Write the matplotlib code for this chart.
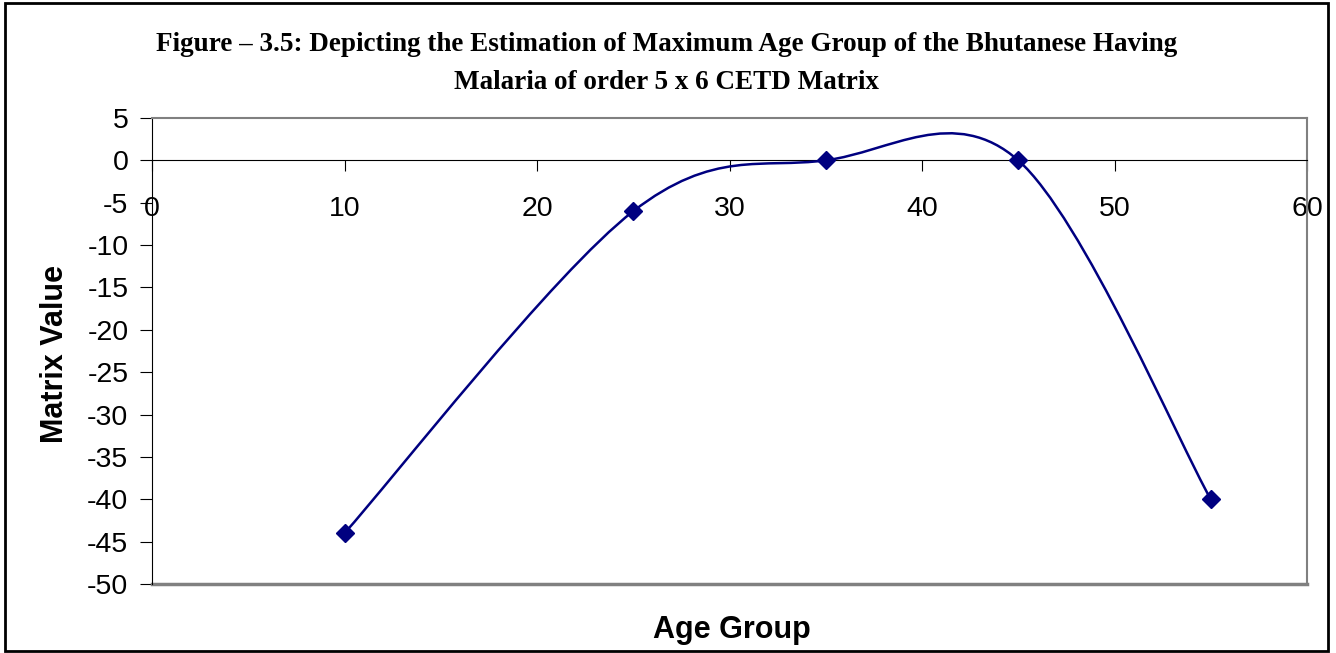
import matplotlib
matplotlib.use("Agg")
import matplotlib.pyplot as plt
import numpy as np
from matplotlib.path import Path
from matplotlib.patches import PathPatch, Rectangle
from matplotlib.lines import Line2D

plt.rcParams["axes.unicode_minus"] = False

# DATA
age_group = [10, 25, 35, 45, 55]
matrix_value = [-44, -6, 0, 0, -40]
x_ticks = [0, 10, 20, 30, 40, 50, 60]
y_ticks = [5, 0, -5, -10, -15, -20, -25, -30, -35, -40, -45, -50]

title = ("Figure \u2013 3.5: Depicting the Estimation of Maximum Age Group of the Bhutanese Having\n"
         "Malaria of order 5 x 6 CETD Matrix")

navy = "#000080"

fig = plt.figure(figsize=(13.36, 6.53), dpi=100)
ax = fig.add_axes([0.1138, 0.1057, 0.8645, 0.7136])

# smoothed line like excel (bezier through the points)
pts = np.column_stack([age_group, matrix_value]).astype(float)
n = len(pts)
verts = [pts[0]]
codes = [Path.MOVETO]
for i in range(n - 1):
    p0 = pts[max(i - 1, 0)]
    p1 = pts[i]
    p2 = pts[i + 1]
    p3 = pts[min(i + 2, n - 1)]
    c1 = p1 + (p2 - p0) / 6
    c2 = p2 - (p3 - p1) / 6
    verts += [c1, c2, p2]
    codes += [Path.CURVE4] * 3
ax.add_patch(PathPatch(Path(verts, codes), facecolor="none", edgecolor=navy, lw=1.8, zorder=3))
ax.plot(age_group, matrix_value, linestyle="none", marker="D", ms=9, color=navy, zorder=4)

ax.set_xlim(0, 60)
ax.set_ylim(-50, 5)
ax.set_xticks(x_ticks)
ax.set_yticks(y_ticks)

ax.spines["bottom"].set_position(("data", 0))
ax.spines["bottom"].set_color("black")
ax.spines["left"].set_color("black")
for s in ["top", "right"]:
    ax.spines[s].set_color("#808080")
    ax.spines[s].set_linewidth(1.5)
ax.add_line(Line2D([0, 1], [0, 0], transform=ax.transAxes, color="#808080", lw=2.5, clip_on=False))

ax.tick_params(axis="x", direction="out", length=8, pad=18, labelsize=20.5)
ax.tick_params(axis="y", direction="out", length=9, pad=8, labelsize=20.5)
for lab in ax.get_xticklabels() + ax.get_yticklabels():
    lab.set_family("Liberation Sans")

fig.text(0.499, 0.903, title, ha="center", va="center", fontsize=19.5, fontweight="bold",
         family="Liberation Serif", linespacing=1.7)
fig.text(0.041, 0.458, "Matrix Value", rotation=90, ha="center", va="center",
         fontsize=22, fontweight="bold", family="Liberation Sans")
fig.text(0.548, 0.035, "Age Group", ha="center", va="center",
         fontsize=22, fontweight="bold", family="Liberation Sans")

fig.patches.append(Rectangle((0.004, 0.003), 0.99, 0.992, transform=fig.transFigure,
                             fill=False, edgecolor="black", lw=2))

fig.savefig("out.png", dpi=100)
